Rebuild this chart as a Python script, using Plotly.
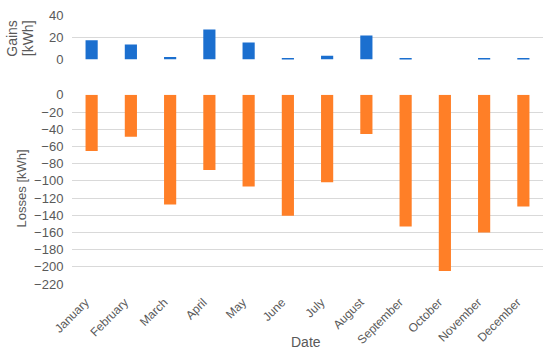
import plotly.graph_objects as go
from plotly.subplots import make_subplots

months = ["January", "February", "March", "April", "May", "June", "July",
          "August", "September", "October", "November", "December"]
gains = [17.3, 13.4, 2.3, 26.9, 15.2, 1.2, 3.3, 21.5, 1.0, 0.0, 0.5, 0.5]
losses = [-65.3, -48.7, -127.5, -87.3, -106.6, -140.6, -101.6, -45.6, -153.0, -205.0, -160.0, -130.0]

gain_ticks = [0, 20, 40]
loss_ticks = list(range(0, -221, -20))

BLUE = "#1B6FCF"
ORANGE = "#FF7F27"
GRID = "#D9D9D9"
TXT = "#595959"
FONT = "Liberation Sans"

fig = make_subplots(rows=2, cols=1, shared_xaxes=True)
fig.add_trace(go.Bar(x=months, y=gains, marker=dict(color=BLUE, line=dict(width=0))), row=1, col=1)
fig.add_trace(go.Bar(x=months, y=losses, marker=dict(color=ORANGE, line=dict(width=0))), row=2, col=1)

# body margin is removed via post_script, so layout is in window pixels
H = 353
W = 550
plot_left, plot_right = 72, 543
plot_top, plot_bottom = 14.7, 284.3
L, R = plot_left, W - plot_right
t, b = plot_top, H - plot_bottom
ph = plot_bottom - plot_top
pw = plot_right - plot_left


def py(y_win):
    return (plot_bottom - y_win) / ph


def px(x_win):
    return (x_win - plot_left) / pw


yax = dict(showgrid=True, gridcolor=GRID, gridwidth=1, zeroline=False, showline=False,
           ticks="outside", ticklen=5, tickcolor="rgba(0,0,0,0)", automargin=False,
           ticklabeloverflow="allow", tickfont=dict(size=13, color=TXT))

fig.update_layout(
    width=W, height=H,
    margin=dict(l=L, r=R, t=t, b=b, autoexpand=False),
    paper_bgcolor="white", plot_bgcolor="white",
    showlegend=False, bargap=0.69,
    font=dict(family=FONT, color=TXT, size=12),
    xaxis=dict(showticklabels=False, showgrid=False, zeroline=False, showline=False, ticks="",
               automargin=False),
    xaxis2=dict(tickangle=-45, showgrid=False, zeroline=False, showline=False, ticks="",
                automargin=False, ticklabeloverflow="allow", tickfont=dict(size=12, color=TXT),
                ticklabelstandoff=8, ticklabelshift=-6),
    yaxis=dict(domain=[py(59.3), 1.0], range=[0, 40], tickvals=gain_ticks, **yax),
    yaxis2=dict(domain=[0, py(94.7)], range=[-220, 0], tickvals=loss_ticks, **yax),
)

title_font = dict(size=14, color=TXT, family=FONT)
fig.add_annotation(text="Gains", xref="paper", yref="paper", x=px(12.5),
                   y=py(38), textangle=-90, showarrow=False,
                   font=title_font, xanchor="center", yanchor="middle")
fig.add_annotation(text="[kWh]", xref="paper", yref="paper", x=px(28),
                   y=py(38), textangle=-90, showarrow=False,
                   font=title_font, xanchor="center", yanchor="middle")
fig.add_annotation(text="Losses [kWh]", xref="paper", yref="paper", x=px(21),
                   y=py(188.5), textangle=-90, showarrow=False,
                   font=dict(size=13, color=TXT, family=FONT), xanchor="center", yanchor="middle")
fig.add_annotation(text="Date", xref="paper", yref="paper", x=px(306),
                   y=py(342), showarrow=False,
                   font=dict(size=14, color=TXT, family=FONT), xanchor="center", yanchor="middle")

fig.write_html("out.html", config={"displayModeBar": False},
               post_script="document.body.style.margin='0px';")
